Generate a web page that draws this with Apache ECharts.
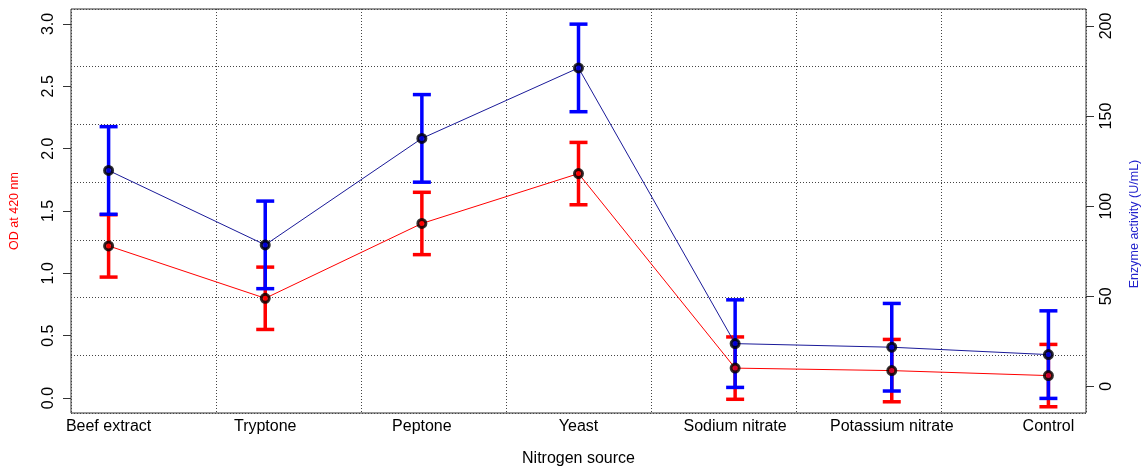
<!DOCTYPE html>
<html>
<head>
<meta charset="utf-8">
<title>Nitrogen source: OD and enzyme activity</title>
<script src="https://cdn.jsdelivr.net/npm/echarts@6/dist/echarts.min.js"></script>
<style>
  html, body { margin: 0; padding: 0; background: #ffffff; }
  #chart { width: 1148px; height: 473px; }
</style>
</head>
<body>
<div id="chart"></div>
<script>
// Nitrogen sources tested
const categories = ['Beef extract', 'Tryptone', 'Peptone', 'Yeast', 'Sodium nitrate', 'Potassium nitrate', 'Control'];

// Growth (OD at 420 nm), mean and SD
const odMean = [1.22, 0.80, 1.40, 1.80, 0.24, 0.22, 0.18];
const odSd   = [0.25, 0.25, 0.25, 0.25, 0.25, 0.25, 0.25];

// Enzyme activity (U/mL), mean and SD
const enzMean = [119.8, 78.5, 137.6, 176.7, 23.7, 21.7, 17.6];
const enzSd   = [24.3, 24.3, 24.3, 24.3, 24.3, 24.3, 24.3];

// Axis tick labels
const odTicks  = [0, 0.5, 1.0, 1.5, 2.0, 2.5, 3.0];
const enzTicks = [0, 50, 100, 150, 200];

const xPos = categories.map((_, i) => i + 1);
const FONT = '"Liberation Sans", Arial, Helvetica, sans-serif';

const lineData = (vals) => vals.map((v, i) => [xPos[i], v]);
const errData = (vals, sd) => vals.map((v, i) => [xPos[i], v - sd[i], v + sd[i]]);

function errorBars(color) {
  return function (params, api) {
    const x = api.value(0);
    const top = api.coord([x, api.value(2)]);
    const bot = api.coord([x, api.value(1)]);
    const cap = 9;
    const style = { stroke: color, lineWidth: 3.5 };
    return {
      type: 'group',
      children: [
        { type: 'line', shape: { x1: top[0], y1: top[1], x2: bot[0], y2: bot[1] }, style },
        { type: 'line', shape: { x1: top[0] - cap, y1: top[1], x2: top[0] + cap, y2: top[1] }, style },
        { type: 'line', shape: { x1: bot[0] - cap, y1: bot[1], x2: bot[0] + cap, y2: bot[1] }, style }
      ]
    };
  };
}

const dotted = { type: [1, 2], color: '#444', width: 1 };
const tickStyle = { color: '#333', width: 1 };

const chart = echarts.init(document.getElementById('chart'), null, { renderer: 'canvas' });

chart.setOption({
  backgroundColor: '#ffffff',
  animation: false,
  textStyle: { fontFamily: FONT },
  grid: {
    left: 67, right: 62, top: 9, bottom: 60,
    show: true, borderColor: '#333', borderWidth: 1, backgroundColor: 'transparent'
  },
  xAxis: [
    {
      type: 'value', min: 0.76, max: 7.24, position: 'bottom',
      axisLine: { show: false },
      axisTick: { show: false, customValues: xPos },
      splitLine: { show: false },
      axisLabel: {
        customValues: xPos,
        formatter: (v) => categories[Math.round(v) - 1],
        fontSize: 16, color: '#000', margin: 6, fontFamily: FONT
      },
      name: 'Nitrogen source', nameLocation: 'middle', nameGap: 38,
      nameTextStyle: { fontSize: 16, color: '#000', fontFamily: FONT }
    },
    {
      // 7 equal divisions for the dotted grid
      type: 'value', min: 0, max: 7, interval: 1, position: 'top',
      axisLine: { show: false }, axisTick: { show: false }, axisLabel: { show: false },
      splitLine: { show: true, lineStyle: dotted }
    }
  ],
  yAxis: [
    {
      type: 'value', min: -0.12, max: 3.12, position: 'left',
      axisLine: { show: false },
      axisTick: { show: true, customValues: odTicks, length: 8, lineStyle: tickStyle },
      splitLine: { show: false },
      axisLabel: {
        customValues: odTicks, rotate: 90, formatter: (v) => v.toFixed(1),
        fontSize: 16, color: '#000', margin: 14, fontFamily: FONT
      },
      name: 'OD at 420 nm', nameLocation: 'middle', nameGap: 50, nameRotate: 90,
      nameTextStyle: { fontSize: 12.5, color: '#ff0000', fontFamily: FONT }
    },
    {
      type: 'value', min: -14.8, max: 209.4, position: 'right',
      axisLine: { show: false },
      axisTick: { show: true, customValues: enzTicks, length: 8, lineStyle: tickStyle },
      splitLine: { show: false },
      axisLabel: {
        customValues: enzTicks, rotate: 90, formatter: (v) => String(v),
        fontSize: 16, color: '#000', margin: 13, fontFamily: FONT
      }
    },
    {
      type: 'value', min: 0, max: 7, interval: 1, position: 'left',
      axisLine: { show: false }, axisTick: { show: false }, axisLabel: { show: false },
      splitLine: { show: true, lineStyle: dotted }
    }
  ],
  graphic: [
    {
      type: 'text', x: 1135, y: 224, rotation: Math.PI / 2,
      style: {
        text: 'Enzyme activity (U/mL)', fill: '#2222cc',
        font: '12.5px ' + FONT, align: 'center', verticalAlign: 'middle'
      }
    }
  ],
  series: [
    {
      type: 'line', xAxisIndex: 0, yAxisIndex: 0, data: lineData(odMean),
      symbol: 'none', lineStyle: { color: '#ff0000', width: 1 }, z: 2
    },
    {
      type: 'custom', xAxisIndex: 0, yAxisIndex: 0, data: errData(odMean, odSd),
      renderItem: errorBars('#ff0000'), encode: { x: 0, y: [1, 2] }, z: 3
    },
    {
      type: 'line', xAxisIndex: 0, yAxisIndex: 1, data: lineData(enzMean),
      symbol: 'none', lineStyle: { color: '#1a1a99', width: 1 }, z: 4
    },
    {
      type: 'custom', xAxisIndex: 0, yAxisIndex: 1, data: errData(enzMean, enzSd),
      renderItem: errorBars('#0000ff'), encode: { x: 0, y: [1, 2] }, z: 5
    },
    {
      type: 'scatter', xAxisIndex: 0, yAxisIndex: 0, data: lineData(odMean),
      symbol: 'circle', symbolSize: 8,
      itemStyle: { color: '#ff0000', borderColor: '#000', borderWidth: 3 }, z: 6
    },
    {
      type: 'scatter', xAxisIndex: 0, yAxisIndex: 1, data: lineData(enzMean),
      symbol: 'circle', symbolSize: 8,
      itemStyle: { color: '#0000cc', borderColor: '#000', borderWidth: 3 }, z: 7
    }
  ]
});
</script>
</body>
</html>
